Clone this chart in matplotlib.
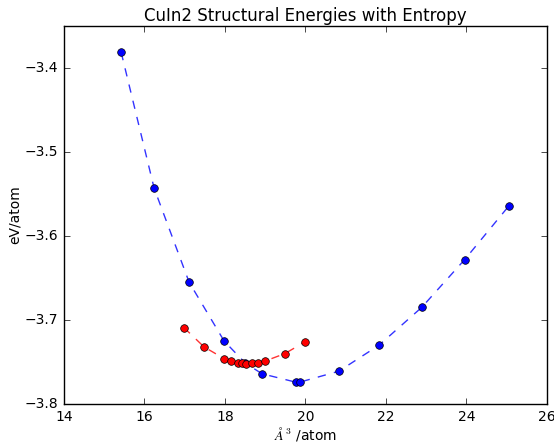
import matplotlib
matplotlib.use("Agg")
import matplotlib.pyplot as plt

# volumes (A^3/atom) and energies (eV/atom)
vol_static = [15.42, 16.24, 17.11, 17.98, 18.50, 18.92, 19.76, 19.86,
              20.83, 21.83, 22.89, 23.96, 25.06]
en_static = [-3.381, -3.543, -3.655, -3.725, -3.751, -3.764, -3.774, -3.774,
             -3.761, -3.730, -3.685, -3.628, -3.564]

vol_entropy = [16.98, 17.48, 17.98, 18.15, 18.32, 18.42, 18.52, 18.67,
               18.82, 18.99, 19.49, 19.99]
en_entropy = [-3.709, -3.732, -3.746, -3.749, -3.751, -3.751, -3.752, -3.751,
              -3.751, -3.749, -3.740, -3.726]

plt.style.use('classic')
plt.rcParams['font.size'] = 10
fig = plt.figure(figsize=(5.54, 4.42), dpi=100)
ax = fig.add_axes([0.1155, 0.086, 0.8715, 0.855])

ax.plot(vol_static, en_static, 'b--', alpha=0.8)
ax.plot(vol_static, en_static, 'bo', markersize=5.5)
ax.plot(vol_entropy, en_entropy, 'r--', alpha=0.8)
ax.plot(vol_entropy, en_entropy, 'ro', markersize=5.5)

ax.set_xlim(14, 26)
ax.set_ylim(-3.8, -3.35)
ax.set_yticks([-3.8, -3.7, -3.6, -3.5, -3.4])
ax.tick_params(labelsize=10)
ax.set_title('CuIn2 Structural Energies with Entropy', fontsize=12, pad=4)
ax.set_xlabel(r'$\AA^3$ /atom', fontsize=10, labelpad=1)
ax.set_ylabel('eV/atom', fontsize=10, labelpad=2)

fig.savefig('out.png', dpi=100)
